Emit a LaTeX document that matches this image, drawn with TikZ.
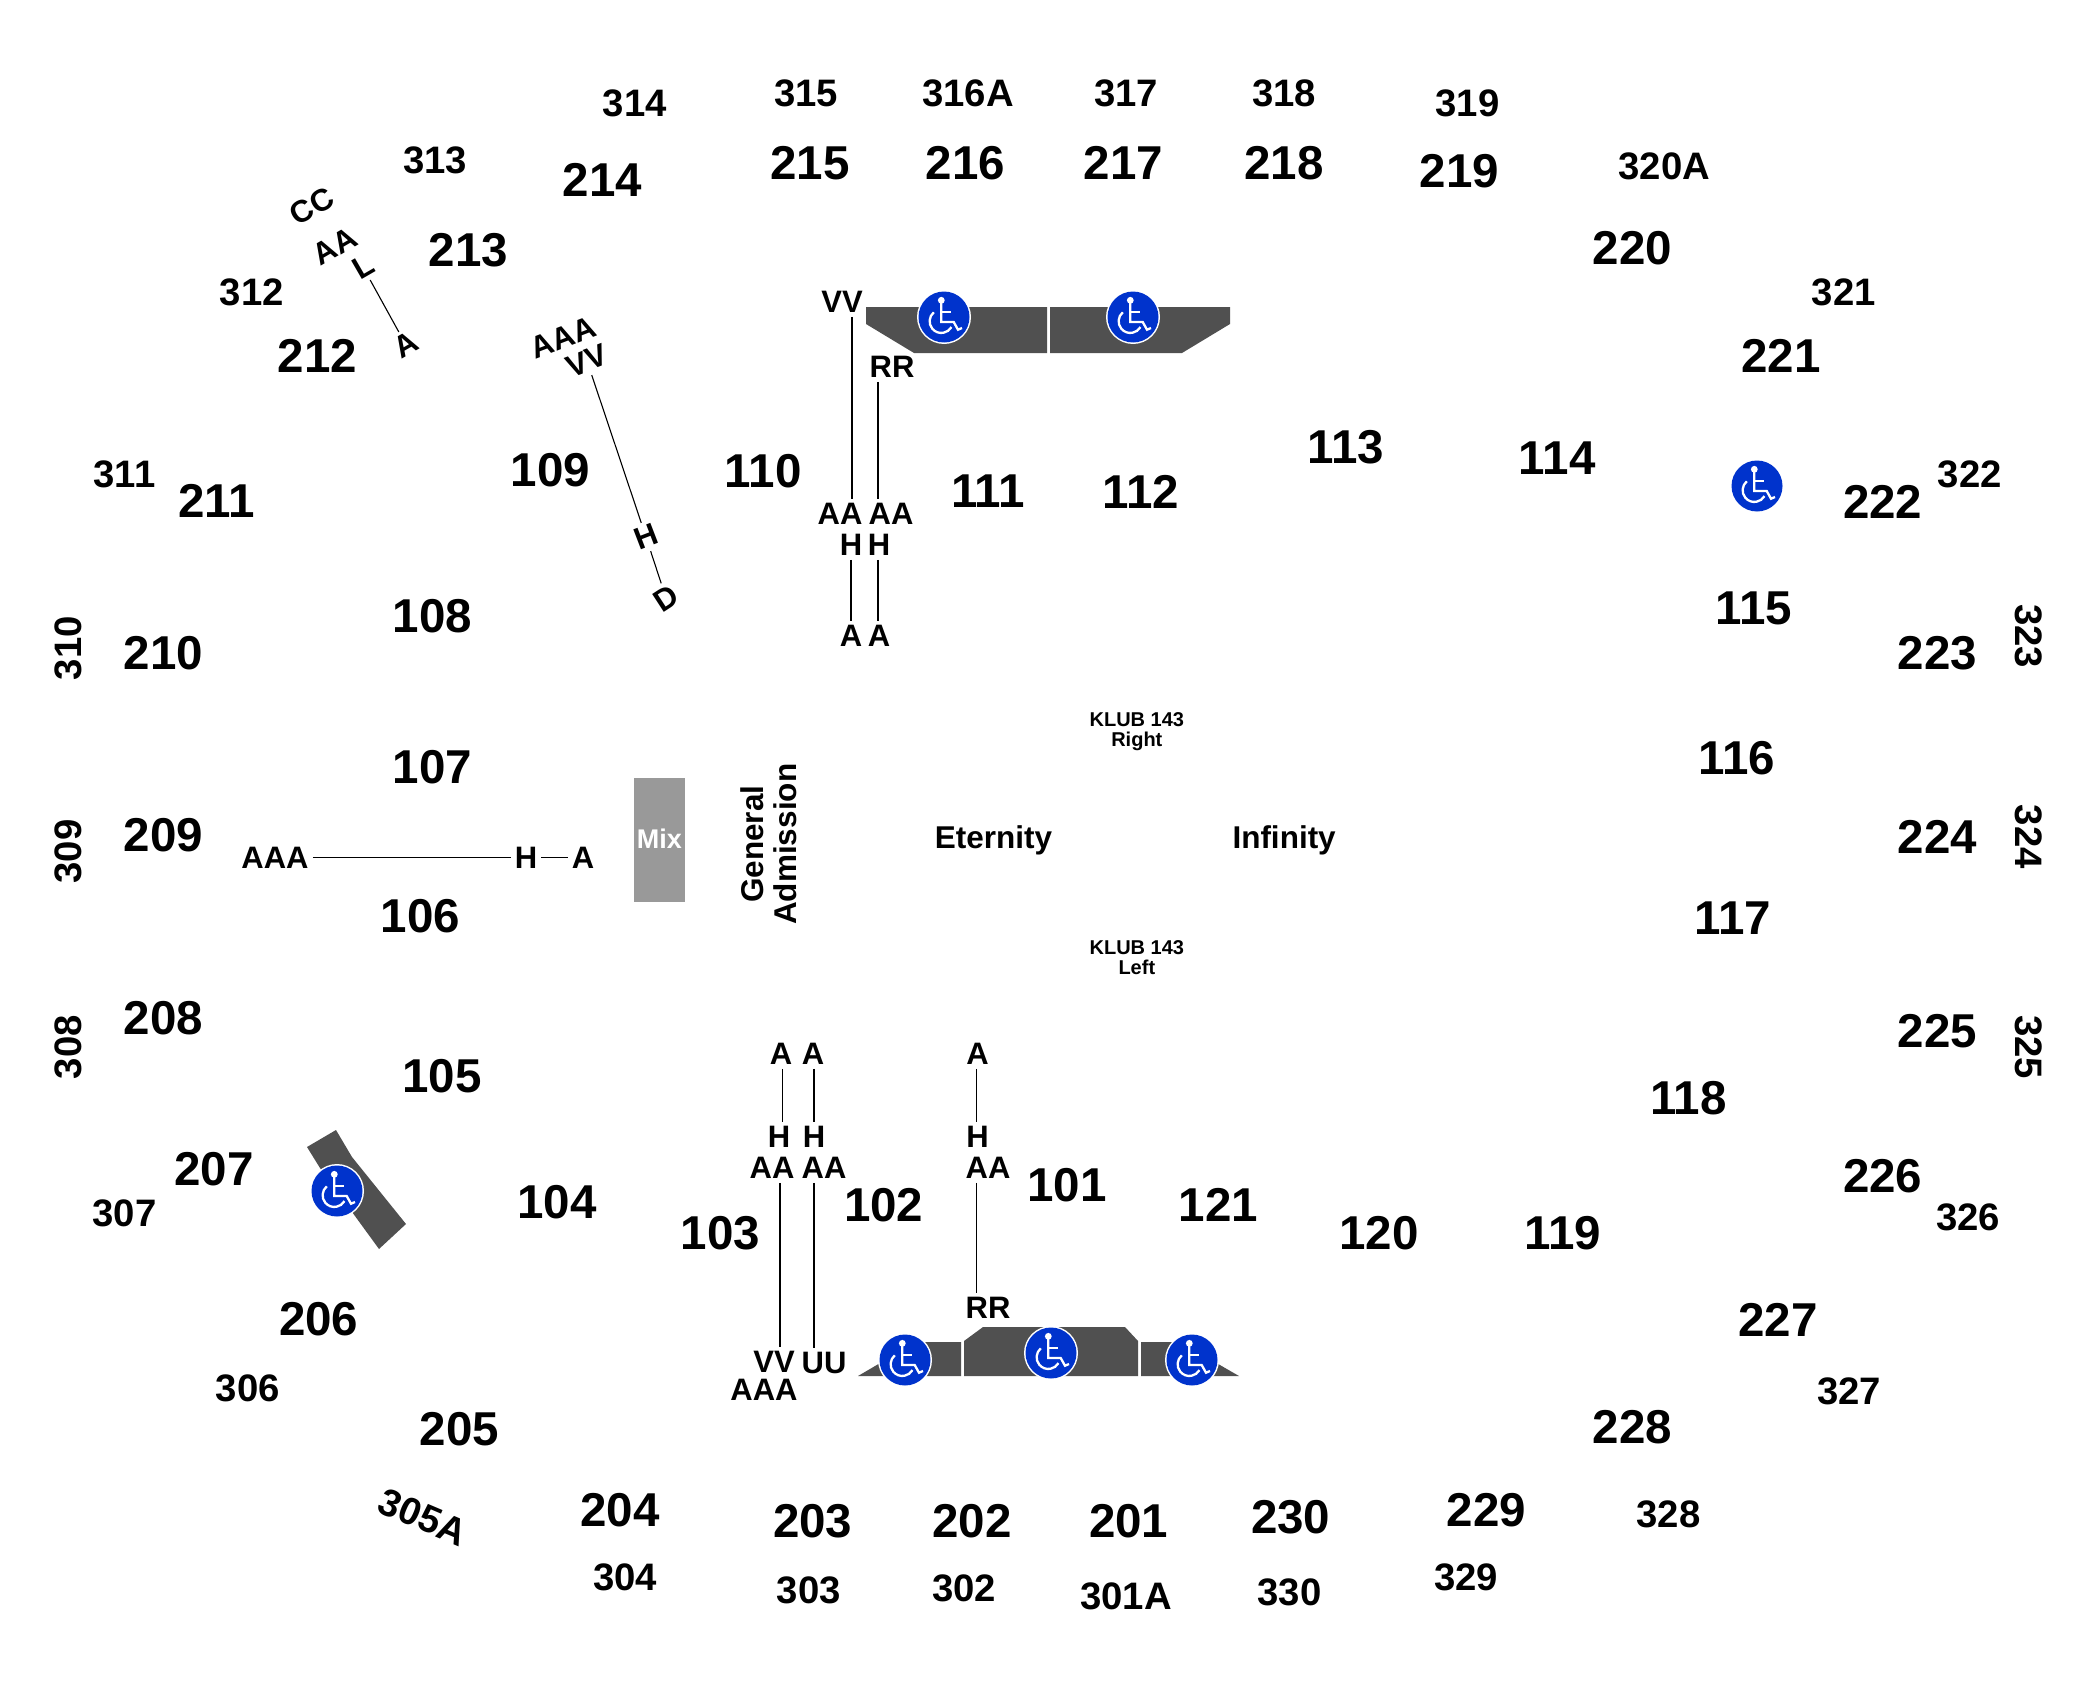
\documentclass[tikz,border=0pt]{standalone}
\usepackage{fontspec}
\setmainfont{Liberation Sans}
\definecolor{wcblue}{HTML}{0033CC}
\definecolor{mixgrey}{HTML}{999999}
\tikzset{
  x=1pt,y=-1pt,
  bigsec/.style={inner sep=0pt,xshift=1.3pt,font=\fontsize{47.5}{50}\selectfont\bfseries},
  smallsec/.style={inner sep=0pt,xshift=1.3pt,font=\fontsize{38.3}{40}\selectfont\bfseries},
  rowlab/.style={inner sep=4pt,font=\fontsize{31}{33}\selectfont\bfseries},
  areatext/.style={inner sep=0pt,align=center,font=\fontsize{31.5}{33.5}\selectfont\bfseries},
  klub/.style={inner sep=0pt,align=center,font=\fontsize{20}{20}\selectfont\bfseries},
  rowline/.style={draw=black,line width=1.3pt},
  thinline/.style={draw=black,line width=1.1pt},
  platform/.style={fill=black!68.5,draw=none},
  wheel/.pic={
    \fill[white] (0,0) circle (27);
    \fill[wcblue] (0,0) circle (25.5);
    \fill[white] (-2.7,-16.7) circle (3.4);
    \draw[white,line width=2.3pt] (-2.7,-15) -- (-2.7,5) -- (9.7,5) -- (14,12.7) -- (18,11);
    \draw[white,line width=2.3pt] (-2.7,-5) -- (7,-5);
    \draw[white,line width=2.3pt] (-10.2,-4.7) arc[start angle=230,end angle=30,radius=11.7];
  },
}
\begin{document}
\begin{tikzpicture}
\useasboundingbox (0,0) rectangle (2100,1704);
% platforms
\fill[platform] (866,307) -- (1047,307) -- (1047,353) -- (914,353) -- (866,324) -- cycle;
\fill[platform] (1050,307) -- (1230,307) -- (1230,324) -- (1182,353) -- (1050,353) -- cycle;
\fill[platform] (858,1376) -- (916,1342) -- (961,1342) -- (961,1376) -- cycle;
\fill[platform] (964,1376) -- (964,1341) -- (983,1327) -- (1125,1327) -- (1138,1341) -- (1138,1376) -- cycle;
\fill[platform] (1141,1376) -- (1141,1342) -- (1180,1342) -- (1239,1376) -- cycle;
\fill[platform] (307,1147) -- (336,1130) -- (352,1157) -- (406,1224) -- (379,1249) -- (320,1168) -- cycle;
\fill[mixgrey] (634,778) rectangle (685,902);
% wheelchair icons
\foreach \p in {(944,317),(1133,317),(905,1360),(1051,1353),(1192,1360),(1757,486),(337,1191)}
  \pic at \p {wheel};
% section numbers
\begin{scope}[x=1.339pt,y=-1.339pt]
\foreach \t/\a/\b in {214/449/134,215/604/122,216/720/122,217/838/122,218/958/122,219/1089/128,220/1218/185,213/349/187,212/236/266,221/1329/266,109/410/351,110/569/352,111/737/367,112/851/367,113/1004/334,114/1162/342,211/161/374,222/1405/375,108/322/460,115/1309/454,210/121/488,223/1446/488,107/322/573,116/1296/566,209/121/624,224/1446/625,106/313/684,117/1293/686,208/121/760,225/1446/770,105/329/804,118/1260/820,207/159/873,226/1405/878,101/796/885,121/909/900,102/659/900,104/415/898,103/537/921,120/1029/921,119/1166/921,206/237/985,227/1327/986,205/342/1067,228/1218/1066,204/462/1128,229/1109/1128,203/606/1136,202/725/1136,201/842/1136,230/963/1133}
  \node[bigsec,name=s\t] at (\a,\b) {\t};
\foreach \t/\a/\b in {314/473/77,315/601/70,316A/722/70,317/840/70,318/958/70,319/1095/77,320A/1242/124,313/324/120,312/187/218,321/1376/218,311/92/354,322/1470/354,307/92/906,326/1469/909,306/184/1037,327/1380/1039,328/1245/1131,304/466/1178,329/1094/1178,303/603/1188,302/719/1186,301A/840/1192,330/962/1189}
  \node[smallsec,name=s\t] at (\a,\b) {\t};
\foreach \t/\a/\b in {310/50/484,309/50/636,308/50/782}
  \node[smallsec,rotate=90,name=s\t] at (\a,\b) {\t};
\foreach \t/\a/\b in {323/1514/475,324/1514/625,325/1514/782}
  \node[smallsec,rotate=-90,name=s\t] at (\a,\b) {\t};
\node[smallsec,rotate=-23,name=s305A] at (315,1133) {305A};
\node[klub] (klubr) at (849,546.5) {KLUB 143\\Right};
\node[klub] (klubl) at (849,715) {KLUB 143\\Left};
\node[areatext] (eternity) at (742,627.5) {Eternity};
\node[areatext] (infinity) at (959,627.5) {Infinity};
\node[areatext,rotate=90] (ga) at (574,630.5) {General\\Admission};
\node[inner sep=0pt,text=white,font=\fontsize{27}{29}\selectfont\bfseries] (mix) at (492.5,626) {Mix};
\end{scope}
% row labels, top block
\node[rowlab] (tVV) at (842,302) {VV};
\node[rowlab] (tRR) at (892,367) {RR};
\node[rowlab] (tAAa) at (840,514) {AA};
\node[rowlab] (tAAb) at (891,514) {AA};
\node[rowlab] (tHa) at (851,545) {H};
\node[rowlab] (tHb) at (879,545) {H};
\node[rowlab] (tAa) at (851,636) {A};
\node[rowlab] (tAb) at (879,636) {A};
\coordinate (xa) at (852,0);
\coordinate (xb) at (878,0);
\coordinate (xc) at (851,0);
\draw[rowline] (tVV.south -| xa) -- (tAAa.north -| xa);
\draw[rowline] (tRR.south -| xb) -- (tAAb.north -| xb);
\draw[rowline] (tHa.south -| xc) -- (tAa.north -| xc);
\draw[rowline] (tHb.south -| xb) -- (tAb.north -| xb);
% row labels, bottom block
\node[rowlab] (bAa) at (781,1054) {A};
\node[rowlab] (bAb) at (813,1054) {A};
\node[rowlab] (bAc) at (977.5,1054) {A};
\node[rowlab] (bHa) at (779,1137) {H};
\node[rowlab] (bHb) at (814,1137) {H};
\node[rowlab] (bHc) at (977.5,1137) {H};
\node[rowlab] (bAAa) at (772,1168) {AA};
\node[rowlab] (bAAb) at (824,1168) {AA};
\node[rowlab] (bAAc) at (988,1168) {AA};
\node[rowlab] (bRR) at (988,1308) {RR};
\node[rowlab] (bVV) at (774,1362) {VV};
\node[rowlab] (bUU) at (824,1363) {UU};
\node[rowlab] (bAAA) at (764,1390) {AAA};
\coordinate (xd) at (782.5,0);
\coordinate (xe) at (814,0);
\coordinate (xf) at (976.5,0);
\coordinate (xg) at (780,0);
\draw[rowline] (bAa.south -| xd) -- (bHa.north -| xd);
\draw[rowline] (bAb.south -| xe) -- (bHb.north -| xe);
\draw[rowline] (bAc.south -| xf) -- (bHc.north -| xf);
\draw[rowline] (bAAa.south -| xg) -- (bVV.north -| xg);
\draw[rowline] (bAAb.south -| xe) -- (bUU.north -| xe);
\draw[rowline] (bAAc.south -| xf) -- (bRR.north -| xf);
% row labels, left horizontal
\node[rowlab] (lAAA) at (275,857.5) {AAA};
\node[rowlab] (lH) at (526,857.5) {H};
\node[rowlab] (lA) at (583,857.5) {A};
\draw[rowline] (lAAA) -- (lH);
\draw[rowline] (lH) -- (lA);
% rotated labels
\node[rowlab,rotate=30] (rCC) at (312,206) {CC};
\node[rowlab,rotate=30] (rAA) at (335,246) {AA};
\node[rowlab,rotate=30] (rL) at (363,267) {L};
\node[rowlab,rotate=30] (rA) at (406,345) {A};
\draw[thinline] (rL) -- (rA);
\node[rowlab,rotate=21] (qAAA) at (563,338) {AAA};
\node[rowlab,rotate=21] (qVV) at (587,361) {VV};
\node[rowlab,rotate=21] (qH) at (646,537) {H};
\node[rowlab,rotate=33] (qD) at (666,598) {D};
\draw[thinline] (qVV) -- (qH);
\draw[thinline] (qH) -- (qD);
\end{tikzpicture}
\end{document}
